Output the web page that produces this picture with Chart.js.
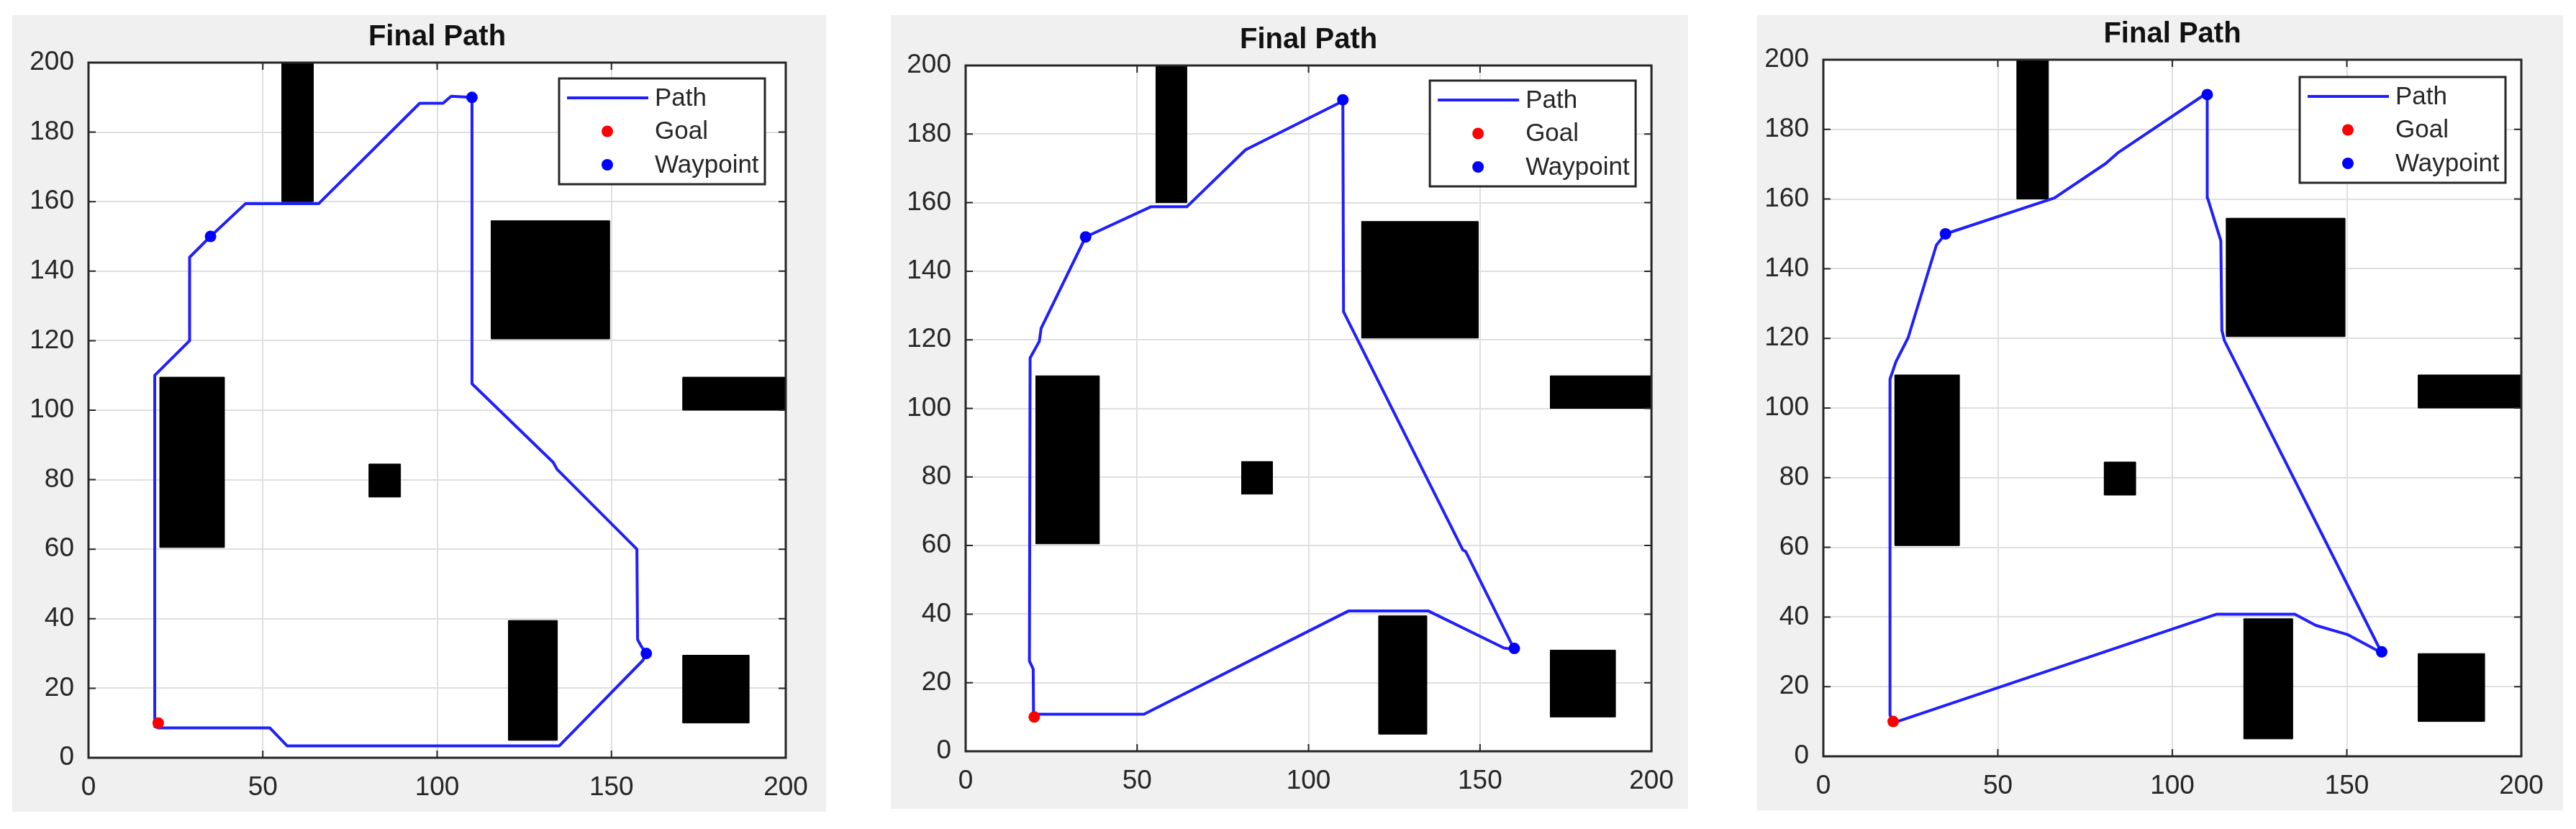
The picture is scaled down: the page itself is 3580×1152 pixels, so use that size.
<!DOCTYPE html>
<html>
<head>
<meta charset="utf-8">
<title>Final Path</title>
<script src="https://cdn.jsdelivr.net/npm/chart.js@4.4.1/dist/chart.umd.min.js"></script>
<style>
  html, body { margin: 0; padding: 0; background: #ffffff; }
  body { width: 3580px; height: 1152px; position: relative; overflow: hidden; }
  .panel { position: absolute; background: #f0f0f0; }
  .panel canvas { display: block; }
</style>
</head>
<body>
<div class="panel"><canvas id="c1"></canvas></div>
<div class="panel"><canvas id="c2"></canvas></div>
<div class="panel"><canvas id="c3"></canvas></div>
<script>
const chartTitle = 'Final Path';
const xTicks = [0, 50, 100, 150, 200];
const yTicks = [0, 20, 40, 60, 80, 100, 120, 140, 160, 180, 200];

// obstacles, [x0, y0, x1, y1]
const obstacles = [
    [55.5, 160, 64.5, 200],
    [115.5, 120.5, 149.5, 154.5],
    [170.5, 100, 200, 109.5],
    [20.5, 60.5, 39, 109.5],
    [80.5, 75, 89.5, 84.5],
    [120.5, 5, 134.5, 39.5],
    [170.5, 10, 189.5, 29.5]
];

const goal = [20, 10];
const waypoints = [[35, 150], [110, 190], [160, 30]];

const path1 = [[20, 8.6], [52, 8.6], [57, 3.4], [135, 3.4], [159, 28], [160, 30], [158.6, 32], [157.5, 34],
    [157.3, 60], [134.4, 83], [133.3, 85], [110, 107.6], [110, 190], [104, 190.3], [101.7, 188.3], [95, 188.3],
    [66, 159.4], [45, 159.4], [35, 150], [29, 144], [29, 120], [19, 110], [19, 9], [20, 8.6]];

const path2 = [[20, 10.8], [52, 10.8], [111.6, 40.9], [135, 40.9], [157, 30.1], [160, 29.7], [145.8, 58.3],
    [145, 58.7], [110.2, 128.2], [110, 189.6], [81.6, 175.4], [64.5, 158.8], [54, 158.8], [35, 150],
    [22, 123.3], [21.5, 119.6], [18.8, 114.7], [18.6, 26.3], [19.7, 24], [19.8, 10.8]];

const path3 = [[20, 9.6], [112.6, 40.8], [135.1, 40.8], [141.1, 37.6], [150.1, 35], [160, 29.7],
    [114.9, 119.4], [114.2, 122.3], [113.9, 148], [110.1, 160.3], [110, 190.5], [84.3, 173.2], [80.9, 170.2],
    [66.2, 160.3], [35, 150], [32.4, 146.8], [24.3, 120.2], [20.8, 113.3], [19.1, 108.3], [19.1, 11.9], [20, 9.6]];

const panels = [
    { id: 'c1', box: [17, 21, 1131, 1107], margin: [106, 66, 56, 75], legendGap: [29, 22], path: path1 },
    { id: 'c2', box: [1238, 21, 1108, 1103], margin: [104, 70, 49, 80], legendGap: [22, 21], path: path2 },
    { id: 'c3', box: [2442, 21, 1120, 1105], margin: [92, 62, 58, 75], legendGap: [22, 24], path: path3 }
];

const FONT = "'Liberation Sans', Arial, Helvetica, sans-serif";
const AXIS_COLOR = '#262626';

function toPoints(arr) {
    return arr.map(p => ({ x: p[0], y: p[1] }));
}

function rectPoints(o) {
    return [
        { x: o[0], y: o[1] }, { x: o[2], y: o[1] }, { x: o[2], y: o[3] },
        { x: o[0], y: o[3] }, { x: o[0], y: o[1] }
    ];
}

// white axes background, frame, inner ticks, title and the matlab style legend
const matlabAxes = {
    id: 'matlabAxes',
    beforeDraw(chart) {
        const a = chart.chartArea;
        const ctx = chart.ctx;
        ctx.save();
        ctx.fillStyle = '#ffffff';
        ctx.fillRect(a.left, a.top, a.right - a.left, a.bottom - a.top);
        ctx.restore();
    },
    afterDatasetsDraw(chart, args, opts) {
        const ctx = chart.ctx;
        const a = chart.chartArea;
        const xs = chart.scales.x, ys = chart.scales.y;

        ctx.save();
        ctx.strokeStyle = AXIS_COLOR;
        ctx.lineWidth = 2;
        ctx.beginPath();
        xTicks.forEach(v => {
            const px = xs.getPixelForValue(v);
            ctx.moveTo(px, a.bottom); ctx.lineTo(px, a.bottom - 10);
            ctx.moveTo(px, a.top); ctx.lineTo(px, a.top + 10);
        });
        yTicks.forEach(v => {
            const py = ys.getPixelForValue(v);
            ctx.moveTo(a.left, py); ctx.lineTo(a.left + 10, py);
            ctx.moveTo(a.right, py); ctx.lineTo(a.right - 10, py);
        });
        ctx.stroke();

        ctx.lineWidth = 3;
        ctx.strokeRect(a.left, a.top, a.right - a.left, a.bottom - a.top);

        // title
        ctx.fillStyle = '#111111';
        ctx.font = 'bold 40px ' + FONT;
        ctx.textAlign = 'center';
        ctx.textBaseline = 'middle';
        ctx.fillText(chartTitle, (a.left + a.right) / 2, a.top - 35);

        // legend
        const bw = 286, bh = 147;
        const bx = a.right - opts.gap[0] - bw;
        const by = a.top + opts.gap[1];
        ctx.fillStyle = '#ffffff';
        ctx.fillRect(bx, by, bw, bh);
        ctx.strokeStyle = AXIS_COLOR;
        ctx.lineWidth = 3;
        ctx.strokeRect(bx, by, bw, bh);

        const items = chart.data.datasets.filter(d => d.legendType)
            .sort((p, q) => p.legendIndex - q.legendIndex);
        ctx.font = '35px ' + FONT;
        ctx.textAlign = 'left';
        items.forEach((d, i) => {
            const y = by + 27 + i * 46.5;
            if (d.legendType === 'line') {
                ctx.strokeStyle = d.borderColor;
                ctx.lineWidth = 4;
                ctx.beginPath();
                ctx.moveTo(bx + 11, y);
                ctx.lineTo(bx + 124, y);
                ctx.stroke();
            } else {
                ctx.fillStyle = d.pointBackgroundColor;
                ctx.beginPath();
                ctx.arc(bx + 67, y, 8, 0, Math.PI * 2);
                ctx.fill();
            }
            ctx.fillStyle = AXIS_COLOR;
            ctx.fillText(d.label, bx + 133, y + 1);
        });
        ctx.restore();
    }
};

function makeChart(p) {
    const canvas = document.getElementById(p.id);
    const wrap = canvas.parentNode;
    wrap.style.left = p.box[0] + 'px';
    wrap.style.top = p.box[1] + 'px';
    wrap.style.width = p.box[2] + 'px';
    wrap.style.height = p.box[3] + 'px';
    canvas.width = p.box[2];
    canvas.height = p.box[3];

    const datasets = [
        {
            label: 'Goal', data: toPoints([goal]), showLine: false,
            pointRadius: 8, pointBackgroundColor: '#ff0000', pointBorderWidth: 0,
            order: 0, legendType: 'point', legendIndex: 1
        },
        {
            label: 'Waypoint', data: toPoints(waypoints), showLine: false,
            pointRadius: 8, pointBackgroundColor: '#0000ff', pointBorderWidth: 0,
            order: 0, legendType: 'point', legendIndex: 2
        },
        {
            label: 'Path', data: toPoints(p.path), borderColor: '#1f1fff', borderWidth: 4,
            pointRadius: 0, tension: 0, fill: false, borderJoinStyle: 'round', borderCapStyle: 'round',
            order: 1, legendType: 'line', legendIndex: 0
        }
    ];
    obstacles.forEach((o, i) => {
        datasets.push({
            label: 'Obstacle ' + (i + 1), data: rectPoints(o), fill: 'shape',
            backgroundColor: '#000000', borderColor: '#000000', borderWidth: 1,
            pointRadius: 0, tension: 0, order: 2
        });
    });

    const tickFont = { family: FONT, size: 37 };

    new Chart(canvas, {
        type: 'line',
        data: { datasets: datasets },
        options: {
            responsive: false,
            animation: false,
            devicePixelRatio: 1,
            layout: { padding: { left: 0, top: p.margin[1], right: p.margin[2], bottom: 0 } },
            plugins: {
                legend: { display: false },
                title: { display: false },
                tooltip: { enabled: false },
                matlabAxes: { gap: p.legendGap }
            },
            events: [],
            scales: {
                x: {
                    type: 'linear', min: 0, max: 200,
                    afterBuildTicks: s => { s.ticks = xTicks.map(v => ({ value: v })); },
                    afterFit: s => { s.height = p.margin[3]; },
                    grid: { color: '#dfdfdf', lineWidth: 2, drawTicks: false },
                    border: { display: false },
                    ticks: { padding: 20, color: AXIS_COLOR, font: tickFont, maxRotation: 0, autoSkip: false }
                },
                y: {
                    type: 'linear', min: 0, max: 200,
                    afterBuildTicks: s => { s.ticks = yTicks.map(v => ({ value: v })); },
                    afterFit: s => { s.width = p.margin[0]; },
                    grid: { color: '#dfdfdf', lineWidth: 2, drawTicks: false },
                    border: { display: false },
                    ticks: { padding: 20, color: AXIS_COLOR, font: tickFont, autoSkip: false }
                }
            }
        },
        plugins: [matlabAxes]
    });
}

panels.forEach(makeChart);
</script>
</body>
</html>
